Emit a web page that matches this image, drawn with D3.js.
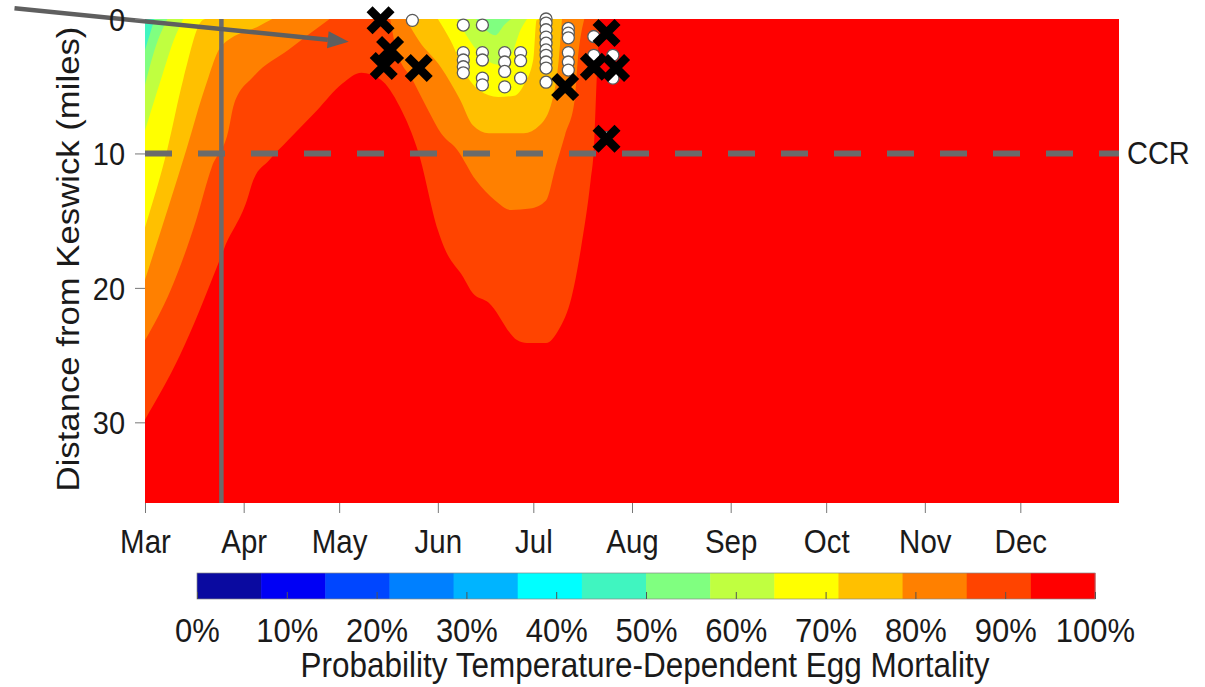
<!DOCTYPE html>
<html><head><meta charset="utf-8">
<script src="https://cdn.jsdelivr.net/npm/d3@7"></script>
<style>
body{margin:0;background:#fff}
svg{display:block}
text{font-family:"Liberation Sans",Arial,Helvetica,sans-serif;fill:#1a1a1a}
</style>
</head><body>
<svg id="chart" width="1205" height="687"></svg>
<script>
// ---------- data ----------
const monthTicks = ["2021-03-01","2021-04-01","2021-05-01","2021-06-01","2021-07-01","2021-08-01","2021-09-01","2021-10-01","2021-11-01","2021-12-01"];
const monthLabels = ["Mar","Apr","May","Jun","Jul","Aug","Sep","Oct","Nov","Dec"];
const distanceTicks = [0, 10, 20, 30];
const percentTicks = [0,10,20,30,40,50,60,70,80,90,100];
const percentLabels = ["0%","10%","20%","30%","40%","50%","60%","70%","80%","90%","100%"];
const bandColors = ["#0a0aa0","#0000f5","#0046ff","#0080ff","#00b4ff","#00ffff","#40f5c0","#80ff80","#c0ff40","#ffff00","#ffc000","#ff8000","#ff4400","#ff0000"];

// contour boundaries: depth (miles) below which mortality is under each level, by date
const contourLevels = [92.9, 85.7, 78.6, 71.4, 64.3, 57.1, 50.0];
const below929 = [[
  ["2021-03-01",29.8],["2021-03-12",25],["2021-03-24",18.2],["2021-03-26",17],["2021-04-02",13.5],
  ["2021-04-04",12],["2021-04-09",10.5],["2021-04-15",9],["2021-04-24",6.8],["2021-05-02",4.8],
  ["2021-05-08",4.0],["2021-05-14",4.5],["2021-05-20",6.5],["2021-05-26",10],["2021-06-01",15.7],
  ["2021-06-03",17],["2021-06-09",19.2],["2021-06-12",20.4],["2021-06-17",21.1],["2021-06-26",23.9],
  ["2021-06-29",24.1],["2021-07-05",24.1],["2021-07-09",23.1],["2021-07-13",20.7],["2021-07-16",17],
  ["2021-07-19",12],["2021-07-20",9.7],["2021-07-21",4],["2021-07-22",0]
]];
const below857 = [[
  ["2021-03-01",23.9],["2021-03-09",20.2],["2021-03-17",15],["2021-03-22",11],["2021-03-27",8.5],
  ["2021-03-29",6.3],["2021-04-04",4.3],["2021-04-15",2.3],["2021-04-28",0]
],[
  ["2021-05-17",0],["2021-05-19",2.3],["2021-05-24",4.5],["2021-05-29",6.8],["2021-06-02",8.5],
  ["2021-06-07",9.7],["2021-06-13",12],["2021-06-19",13.5],["2021-06-24",14.2],["2021-06-30",14.1],
  ["2021-07-05",13.5],["2021-07-08",11],["2021-07-11",8.6],["2021-07-14",6],["2021-07-15",3],["2021-07-17",0]
]];
const below786 = [[
  ["2021-03-01",19.4],["2021-03-14",9.7],["2021-03-20",5],["2021-03-25",2],["2021-04-06",0.5],["2021-04-10",0]
],[
  ["2021-05-22",0],["2021-05-26",1.6],["2021-06-02",3.6],["2021-06-08",6],["2021-06-12",7.9],
  ["2021-06-17",8.5],["2021-06-28",8.5],["2021-07-03",7.9],["2021-07-07",6],["2021-07-09",3],["2021-07-10",0]
]];
const below714 = [[
  ["2021-03-01",15.5],["2021-03-08",9.7],["2021-03-13",4.5],["2021-03-19",0.1],["2021-03-20",0]
],[
  ["2021-06-01",0],["2021-06-05",1.6],["2021-06-10",4.2],["2021-06-14",5.3],["2021-06-20",5.8],
  ["2021-06-25",5.7],["2021-06-28",4.9],["2021-07-01",3],["2021-07-02",0.1],["2021-07-03",0]
]];
const below643 = [[
  ["2021-03-01",8.3],["2021-03-06",4.5],["2021-03-10",1.6],["2021-03-13",0]
],[
  ["2021-06-07",0],["2021-06-11",1.6],["2021-06-16",3],["2021-06-20",3.4],["2021-06-24",2.7],["2021-06-27",0.8],["2021-06-29",0]
]];
const below571 = [[
  ["2021-03-01",4.9],["2021-03-04",2.3],["2021-03-08",0]
],[
  ["2021-06-13",0],["2021-06-16",0.8],["2021-06-19",1.2],["2021-06-22",0.4],["2021-06-24",0]
]];
const below500 = [[
  ["2021-03-01",2.3],["2021-03-04",0]
]];

// observed redds (white circles)
const reddDates = ["2021-05-24","2021-06-09","2021-06-15",
  "2021-06-09","2021-06-09","2021-06-09","2021-06-09",
  "2021-06-15","2021-06-15","2021-06-15","2021-06-15",
  "2021-06-22","2021-06-22","2021-06-22","2021-06-22",
  "2021-06-27","2021-06-27","2021-06-27",
  "2021-07-05","2021-07-05","2021-07-05","2021-07-05","2021-07-05","2021-07-05","2021-07-05","2021-07-05","2021-07-05","2021-07-05",
  "2021-07-12","2021-07-12","2021-07-12","2021-07-12","2021-07-12","2021-07-12",
  "2021-07-20","2021-07-20","2021-07-26","2021-07-26","2021-07-24"];
const reddMiles = [0.1,0.45,0.45,
  2.5,3.05,3.55,4.0,
  2.5,3.05,4.4,4.9,
  2.5,3.2,3.9,5.05,
  2.5,3.1,4.4,
  0,0.3,0.8,1.35,1.8,2.3,2.7,3.2,3.65,4.7,
  0.7,1.05,1.4,2.5,3.2,3.8,
  1.3,2.7,2.7,4.4,8.8];

// black X markers
const xDates = ["2021-05-14","2021-05-17","2021-05-15","2021-05-26","2021-07-11","2021-07-24","2021-07-20","2021-07-27","2021-07-24"];
const xMiles = [0.1,2.3,3.5,3.65,5.05,1.05,3.55,3.65,8.9];

// reference lines and annotation
const ccrMiles = 10;
const verticalLineDate = "2021-03-25";
const arrowFrom = ["2021-01-19", -0.8];
const arrowTo = ["2021-05-04", 1.7];

// ---------- drawing ----------
const parse = d3.timeParse("%Y-%m-%d");
const svg = d3.select("#chart");
const L = 145, R = 1119, T = 19, B = 503;
const SY = 1.1; // vertical text stretch
const x = d3.scaleTime().domain([parse("2021-03-01"), parse("2022-01-01")]).range([L, R]);
const y = d3.scaleLinear().domain([0, 36]).range([T, B]);

svg.append("defs").append("clipPath").attr("id","plotclip")
  .append("rect").attr("x",L).attr("y",T).attr("width",R-L).attr("height",B-T);

const plot = svg.append("g").attr("clip-path","url(#plotclip)");
plot.append("rect").attr("x",L).attr("y",T).attr("width",R-L).attr("height",B-T).attr("fill",bandColors[13]);

const area = d3.area()
  .x(d => x(parse(d[0])))
  .y0(y(0))
  .y1(d => y(d[1]))
  .curve(d3.curveMonotoneX);

const contourSets = [below929, below857, below786, below714, below643, below571, below500];
contourSets.forEach((segs, i) => {
  const color = bandColors[12 - i];
  segs.forEach(seg => {
    plot.append("path").datum(seg).attr("d", area).attr("fill", color);
  });
});

// vertical line
plot.append("line")
  .attr("x1", x(parse(verticalLineDate))).attr("x2", x(parse(verticalLineDate)))
  .attr("y1", T).attr("y2", B)
  .attr("stroke","#6b6b6b").attr("stroke-width",4.5);

// CCR dashed line
svg.append("line")
  .attr("x1", L).attr("x2", R).attr("y1", y(ccrMiles)).attr("y2", y(ccrMiles))
  .attr("stroke","#6b6b6b").attr("stroke-width",6).attr("stroke-dasharray","27,26");
svg.append("text").attr("transform",`translate(${R + 8},${y(ccrMiles) + 11}) scale(1,1.05)`)
  .attr("font-size", 29).text("CCR");

// redds
svg.append("g").selectAll("circle").data(reddDates.map((d,i)=>[d, reddMiles[i]])).join("circle")
  .attr("cx", d => x(parse(d[0]))).attr("cy", d => y(d[1])).attr("r", 6)
  .attr("fill","#ffffff").attr("stroke","#5a5a5a").attr("stroke-width",1.3);

// X markers
const s = 11;
svg.append("g").selectAll("path").data(xDates.map((d,i)=>[d, xMiles[i]])).join("path")
  .attr("transform", d => `translate(${x(parse(d[0]))},${y(d[1])})`)
  .attr("d", `M${-s},${-s}L${s},${s}M${-s},${s}L${s},${-s}`)
  .attr("stroke","#000").attr("stroke-width",8.5).attr("fill","none");

// arrow
const ax0 = x(parse(arrowFrom[0])), ay0 = y(arrowFrom[1]);
const ax1 = x(parse(arrowTo[0])), ay1 = y(arrowTo[1]);
const ang = Math.atan2(ay1 - ay0, ax1 - ax0);
const hl = 21, hw = 8.5;
const bx = ax1 - hl*Math.cos(ang), by = ay1 - hl*Math.sin(ang);
svg.append("line").attr("x1",ax0).attr("y1",ay0).attr("x2",bx).attr("y2",by)
  .attr("stroke","#5f5f5f").attr("stroke-width",4.5);
svg.append("path")
  .attr("d", `M${ax1},${ay1}L${bx - hw*Math.sin(ang)},${by + hw*Math.cos(ang)}L${bx + hw*Math.sin(ang)},${by - hw*Math.cos(ang)}Z`)
  .attr("fill","#5f5f5f");

// axes
const xAxis = d3.axisBottom(x).tickValues(monthTicks.map(parse)).tickFormat((d,i)=>monthLabels[i]).tickSize(10).tickPadding(6);
const gx = svg.append("g").attr("transform",`translate(0,${B})`).call(xAxis);
gx.select(".domain").remove();
gx.selectAll(".tick line").attr("stroke","#777");
gx.selectAll(".tick text").attr("font-size",29.5).attr("fill","#1a1a1a")
  .attr("dy",null).attr("y",50/SY).attr("transform",`scale(1,${SY})`);

const yAxis = d3.axisLeft(y).tickValues(distanceTicks).tickSize(10).tickPadding(10);
const gy = svg.append("g").attr("transform",`translate(${L},0)`).call(yAxis);
gy.select(".domain").remove();
gy.selectAll(".tick line").attr("stroke","#777");
gy.selectAll(".tick text").attr("font-size",29).attr("fill","#1a1a1a").attr("dy","0.36em")
  .attr("transform",`scale(1,${SY})`);

svg.append("text")
  .attr("transform",`translate(79,${(T+B)/2 - 2}) scale(1,1.12) rotate(-90)`)
  .attr("text-anchor","middle").attr("font-size",31)
  .text("Distance from Keswick (miles)");

// colorbar
const cb = d3.scaleLinear().domain([0,100]).range([197,1095]);
const cbTop = 573, cbBot = 599;
const nb = bandColors.length;
svg.append("g").selectAll("rect").data(bandColors).join("rect")
  .attr("x",(d,i)=>cb(i*100/nb)).attr("y",cbTop)
  .attr("width",(d,i)=>cb((i+1)*100/nb)-cb(i*100/nb)+0.5).attr("height",cbBot-cbTop)
  .attr("fill",d=>d);
svg.append("rect").attr("x",cb(0)).attr("y",cbTop).attr("width",cb(100)-cb(0)).attr("height",cbBot-cbTop)
  .attr("fill","none").attr("stroke","#888").attr("stroke-width",0.7);
const cAxis = d3.axisBottom(cb).tickValues(percentTicks).tickFormat((d,i)=>percentLabels[i]).tickSize(-7).tickPadding(14);
const gc = svg.append("g").attr("transform",`translate(0,${cbBot})`).call(cAxis);
gc.select(".domain").remove();
gc.selectAll(".tick line").attr("stroke","#555");
gc.selectAll(".tick text").attr("font-size",31).attr("fill","#1a1a1a").attr("y",43/SY).attr("dy",null)
  .attr("transform",`scale(1,${SY})`);

svg.append("text").attr("transform",`translate(645,677) scale(1,${SY})`).attr("text-anchor","middle").attr("font-size",31.5)
  .text("Probability Temperature-Dependent Egg Mortality");
</script>
</body></html>
